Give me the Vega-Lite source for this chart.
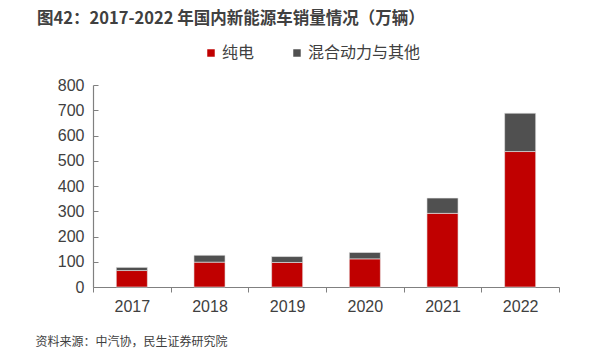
{
  "$schema": "https://vega.github.io/schema/vega-lite/v6.json",
  "width": 466,
  "height": 202,
  "autosize": {"type": "none"},
  "padding": {"left": 93, "top": 85, "right": 37, "bottom": 66},
  "background": "white",
  "title": {
    "text": "图42：2017-2022 年国内新能源车销量情况（万辆）",
    "anchor": "start",
    "frame": "group",
    "orient": "top",
    "font": "Noto Sans CJK SC",
    "fontSize": 16.5,
    "fontWeight": "bold",
    "color": "#404040",
    "baseline": "middle",
    "offset": 0,
    "dx": -56,
    "dy": -10
  },
  "data": {
    "values": [
      {"year": "2017", "type": "纯电", "sales": 65.2},
      {"year": "2017", "type": "混合动力与其他", "sales": 12.5},
      {"year": "2018", "type": "纯电", "sales": 98.4},
      {"year": "2018", "type": "混合动力与其他", "sales": 27.2},
      {"year": "2019", "type": "纯电", "sales": 97.2},
      {"year": "2019", "type": "混合动力与其他", "sales": 23.4},
      {"year": "2020", "type": "纯电", "sales": 111.5},
      {"year": "2020", "type": "混合动力与其他", "sales": 25.2},
      {"year": "2021", "type": "纯电", "sales": 291.6},
      {"year": "2021", "type": "混合动力与其他", "sales": 60.5},
      {"year": "2022", "type": "纯电", "sales": 536.5},
      {"year": "2022", "type": "混合动力与其他", "sales": 151.8}
    ]
  },
  "mark": {"type": "bar", "width": {"band": 0.4}, "stroke": "#e8e8e8", "strokeWidth": 0.6},
  "encoding": {
    "x": {
      "field": "year",
      "type": "nominal",
      "scale": {"paddingInner": 0, "paddingOuter": 0},
      "axis": {
        "title": "资料来源：中汽协，民生证券研究院",
        "titleFont": "Noto Sans CJK SC",
        "titleFontSize": 12,
        "titleFontWeight": "normal",
        "titleColor": "#404040",
        "titleAnchor": "start",
        "titleAlign": "left",
        "titleBaseline": "middle",
        "titleX": -58,
        "titleY": 54,
        "labelAngle": 0,
        "labelFont": "Liberation Sans",
        "labelFontSize": 16,
        "labelColor": "#404040",
        "labelPadding": 6,
        "tickBand": "extent",
        "tickSize": 5,
        "tickColor": "#808080",
        "domainColor": "#808080",
        "domainWidth": 1.2
      }
    },
    "y": {
      "field": "sales",
      "type": "quantitative",
      "stack": "zero",
      "scale": {"domain": [0, 800], "nice": false},
      "axis": {
        "title": null,
        "values": [0, 100, 200, 300, 400, 500, 600, 700, 800],
        "labelFont": "Liberation Sans",
        "labelFontSize": 16,
        "labelColor": "#404040",
        "labelPadding": 14,
        "tickSize": -5,
        "tickColor": "#808080",
        "domainColor": "#808080",
        "domainWidth": 1.2,
        "grid": false
      }
    },
    "color": {
      "field": "type",
      "type": "nominal",
      "scale": {"domain": ["纯电", "混合动力与其他"], "range": ["#C00000", "#505050"]},
      "legend": {
        "title": null,
        "orient": "none",
        "direction": "horizontal",
        "legendX": 110,
        "legendY": -40,
        "symbolType": "square",
        "symbolSize": 56,
        "symbolStrokeWidth": 0,
        "labelFont": "Noto Sans CJK SC",
        "labelFontSize": 16,
        "labelColor": "#404040",
        "labelOffset": 3,
        "columnPadding": 34
      }
    },
    "order": {"field": "type", "sort": "descending"}
  },
  "config": {"view": {"stroke": null}}
}
